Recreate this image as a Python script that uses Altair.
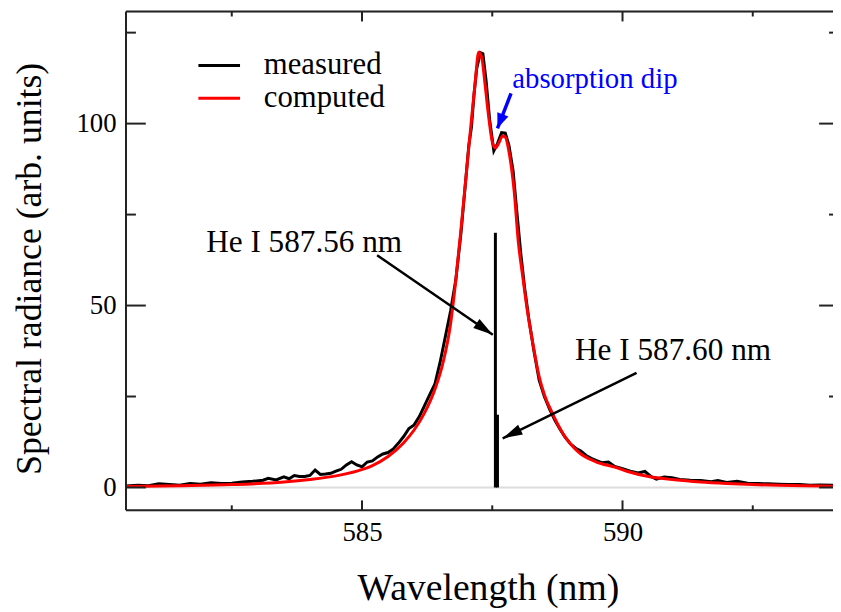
import math
import altair as alt
import pandas as pd

# ---------------- data ----------------
measured_x = [580.47, 580.7, 580.9, 581.1, 581.3, 581.5, 581.7, 581.9, 582.1, 582.3,
              582.5, 582.7, 582.9, 583.1, 583.2, 583.35, 583.5, 583.6, 583.7, 583.8,
              583.9, 584.0, 584.1, 584.2, 584.3, 584.4, 584.5, 584.6, 584.7, 584.8,
              584.9, 585.0, 585.1, 585.2, 585.3, 585.4, 585.5, 585.6, 585.7, 585.8,
              585.9, 586.0, 586.1, 586.2, 586.3, 586.4, 586.5, 586.6, 586.7, 586.8,
              586.9, 587.0, 587.05, 587.1, 587.15, 587.2, 587.27, 587.32, 587.38, 587.45,
              587.53, 587.6, 587.68, 587.75, 587.82, 587.9, 587.97, 588.05, 588.12, 588.2,
              588.3, 588.4, 588.5, 588.6, 588.7, 588.8, 588.9, 589.0, 589.1, 589.2,
              589.3, 589.4, 589.5, 589.6, 589.73, 589.85, 590.0, 590.15, 590.3, 590.43,
              590.55, 590.65, 590.8, 590.95, 591.1, 591.3, 591.5, 591.7, 591.83, 592.0,
              592.2, 592.4, 592.6, 592.8, 593.0, 593.2, 593.4, 593.6, 593.8, 594.04]
measured_y = [0.4, 0.6, 0.5, 1.0, 0.8, 0.6, 1.1, 0.9, 1.3, 1.1,
              1.2, 1.5, 1.7, 2.0, 2.5, 2.1, 2.9, 2.4, 3.3, 3.0,
              3.0, 3.3, 4.8, 3.6, 3.7, 3.9, 4.5, 5.0, 6.2, 7.1,
              6.2, 5.7, 7.0, 7.3, 8.4, 9.2, 9.6, 10.6, 12.2, 14.0,
              16.2, 17.2, 19.5, 22.5, 25.5, 28.5, 34.5, 41.5, 48.5, 57.0,
              70.0, 86.0, 94.0, 99.0, 108.0, 115.0, 119.5, 119.2, 112.0, 101.0,
              92.5, 94.5, 97.5, 97.4, 94.0, 87.0, 76.0, 64.0, 55.0, 46.5,
              37.5, 29.5, 25.0, 21.5, 18.5, 16.0, 13.8, 12.0, 10.8, 10.0,
              8.8, 8.0, 7.4, 6.8, 7.0, 5.8, 5.2, 4.5, 4.0, 4.4,
              3.0, 2.3, 2.9, 2.7, 2.2, 2.0, 1.9, 1.6, 1.9, 1.4,
              1.7, 1.2, 1.1, 1.0, 0.9, 0.8, 0.8, 0.6, 0.7, 0.6]

computed_x = [580.47, 581.5, 582.5, 583.5, 584.0, 584.5, 584.9, 585.2, 585.5, 585.8,
              586.0, 586.2, 586.4, 586.55, 586.7, 586.8, 586.9, 587.0, 587.1, 587.17,
              587.24, 587.3, 587.36, 587.43, 587.5, 587.56, 587.62, 587.7, 587.75, 587.83,
              587.92, 588.0, 588.08, 588.18, 588.28, 588.4, 588.5, 588.65, 588.85, 589.15,
              589.5, 589.85, 590.1, 590.5, 591.0, 591.5, 592.0, 592.5, 593.0, 593.5, 594.04]
computed_y = [0.3, 0.5, 0.8, 1.5, 2.2, 3.2, 4.5, 6.0, 8.5, 12.3,
              15.8, 20.5, 27.0, 34.0, 45.0, 57.0, 71.0, 86.0, 101.0, 111.0,
              119.6, 118.0, 111.0, 102.0, 95.0, 93.3, 94.5, 96.6, 96.3, 91.5,
              81.5, 67.5, 58.5, 48.0, 39.5, 30.5, 25.5, 20.5, 15.0, 9.8,
              7.0, 5.6, 4.4, 3.0, 2.1, 1.5, 1.1, 0.8, 0.6, 0.45, 0.35]

line_wl = [587.56, 587.60]
line_height = [70, 20]

label_text = ["He I 587.56 nm", "He I 587.60 nm"]
label_x = [583.89, 590.97]
label_y = [67.3, 37.4]

arrow_x = [585.29, 590.27]
arrow_y = [63.8, 31.5]
arrow_x2 = [587.51, 587.70]
arrow_y2 = [42.0, 13.5]

dip_text = "absorption dip"
dip_text_x = 589.47
dip_text_y = 112.3
dip_x, dip_y, dip_x2, dip_y2 = 587.86, 108.3, 587.60, 98.7

x_major = [585, 590]
x_minor = [582.5, 587.5, 592.5]
y_major = [0, 50, 100]
y_minor = [25, 75, 125]

XMIN, XMAX = 580.47, 594.04
YMIN, YMAX = -6.27, 130.8
W, H = 713, 503
FONT = "Liberation Serif"

# ---------------- tables ----------------
df_meas = pd.DataFrame({"x": measured_x, "y": measured_y, "series": "measured"})
df_comp = pd.DataFrame({"x": computed_x, "y": computed_y, "series": "computed"})
df_lines = pd.DataFrame({"x": line_wl, "top": line_height, "base": [0, 0]})
df_labels = pd.DataFrame({"x": label_x, "y": label_y, "t": label_text})

px_per_x = W / (XMAX - XMIN)
px_per_y = H / (YMAX - YMIN)


def head_angle(x1, y1, x2, y2):
    dx = (x2 - x1) * px_per_x
    dy = -(y2 - y1) * px_per_y
    a = math.degrees(math.atan2(dy, dx))
    return a % 360


df_arrows = pd.DataFrame({"x": arrow_x, "y": arrow_y, "x2": arrow_x2, "y2": arrow_y2})
df_arrows["angle"] = [head_angle(a, b, c, d) for a, b, c, d in zip(arrow_x, arrow_y, arrow_x2, arrow_y2)]
df_dip = pd.DataFrame({"x": [dip_x], "y": [dip_y], "x2": [dip_x2], "y2": [dip_y2],
                       "angle": [head_angle(dip_x, dip_y, dip_x2, dip_y2)]})
df_diptext = pd.DataFrame({"x": [dip_text_x], "y": [dip_text_y], "t": [dip_text]})

xs = alt.Scale(domain=[XMIN, XMAX], nice=False, zero=False)
ys = alt.Scale(domain=[YMIN, YMAX], nice=False, zero=False)

xaxis = alt.Axis(values=x_major, ticks=False, tickSize=0, domain=False, grid=False,
                 labelFont=FONT, labelFontSize=27, labelColor="black", labelPadding=9,
                 title="Wavelength (nm)", titleFont=FONT, titleFontSize=38,
                 titleFontWeight="normal", titleColor="black",
                 titleX=365, titleY=90, titleBaseline="alphabetic", titleAnchor="start",
                 titleAlign="center")
yaxis = alt.Axis(values=y_major, ticks=False, tickSize=0, domain=False, grid=False,
                 labelFont=FONT, labelFontSize=27, labelColor="black", labelPadding=10,
                 title="Spectral radiance (arb. units)", titleFont=FONT, titleFontSize=36,
                 titleFontWeight="normal", titleColor="black",
                 titleX=-97, titleY=259, titleBaseline="middle", titleAlign="center",
                 titleAngle=270)

X = alt.X("x:Q", scale=xs, axis=xaxis)
Y = alt.Y("y:Q", scale=ys, axis=yaxis)

color = alt.Color("series:N",
                  scale=alt.Scale(domain=["measured", "computed"], range=["black", "red"]),
                  legend=alt.Legend(title=None, orient="none", legendX=78.5, legendY=39,
                                    symbolType="M-2,0L2,0", symbolSize=441, symbolStrokeWidth=3,
                                    labelFont=FONT, labelFontSize=31, labelColor="black",
                                    labelOffset=29.5, rowPadding=1, padding=0))

zero = alt.Chart(pd.DataFrame({"y": [0]})).mark_rule(color="#dcdcdc", strokeWidth=2).encode(
    y=alt.Y("y:Q", scale=ys, axis=yaxis))

meas = alt.Chart(df_meas).mark_line(strokeWidth=3, clip=True).encode(x=X, y=Y, color=color)
comp = alt.Chart(df_comp).mark_line(strokeWidth=3, interpolate="monotone", clip=True).encode(
    x=X, y=Y, color=color)

he = alt.Chart(df_lines).mark_rule(color="black", strokeWidth=3).encode(
    x=alt.X("x:Q", scale=xs), y=alt.Y("base:Q", scale=ys), y2="top:Q")

shafts = alt.Chart(df_arrows).mark_rule(color="black", strokeWidth=2.5).encode(
    x=alt.X("x:Q", scale=xs), y=alt.Y("y:Q", scale=ys), x2="x2:Q", y2="y2:Q")
heads = alt.Chart(df_arrows).mark_point(
    shape="M0,0 L-2,-0.55 L-2,0.55 Z", filled=True, color="black", opacity=1, size=400).encode(
    x=alt.X("x2:Q", scale=xs), y=alt.Y("y2:Q", scale=ys), angle=alt.Angle("angle:Q", scale=None))

dip_shaft = alt.Chart(df_dip).mark_rule(color="#0000ff", strokeWidth=3.5).encode(
    x=alt.X("x:Q", scale=xs), y=alt.Y("y:Q", scale=ys), x2="x2:Q", y2="y2:Q")
dip_head = alt.Chart(df_dip).mark_point(
    shape="M0,0 L-2,-0.8 L-2,0.8 Z", filled=True, color="#0000ff", opacity=1, size=225).encode(
    x=alt.X("x2:Q", scale=xs), y=alt.Y("y2:Q", scale=ys), angle=alt.Angle("angle:Q", scale=None))

labels = alt.Chart(df_labels).mark_text(font=FONT, fontSize=31.5, color="black",
                                        align="center", baseline="middle").encode(
    x=alt.X("x:Q", scale=xs), y=alt.Y("y:Q", scale=ys), text="t:N")
diplabel = alt.Chart(df_diptext).mark_text(font=FONT, fontSize=29, color="#0000ff",
                                           align="center", baseline="middle").encode(
    x=alt.X("x:Q", scale=xs), y=alt.Y("y:Q", scale=ys), text="t:N")

# inward ticks
tick_col = "#222222"
xmaj = pd.DataFrame({"v": x_major})
xmin_ = pd.DataFrame({"v": x_minor})
ymaj = pd.DataFrame({"v": y_major})
ymin_ = pd.DataFrame({"v": y_minor})


def xticks(df, length):
    b = alt.Chart(df).mark_rule(color=tick_col, strokeWidth=2).encode(
        x=alt.X("v:Q", scale=xs), y=alt.value(H), y2=alt.value(H - length))
    t = alt.Chart(df).mark_rule(color=tick_col, strokeWidth=2).encode(
        x=alt.X("v:Q", scale=xs), y=alt.value(0), y2=alt.value(length))
    return b + t


def yticks(df, length, rlength):
    l = alt.Chart(df).mark_rule(color=tick_col, strokeWidth=2).encode(
        y=alt.Y("v:Q", scale=ys), x=alt.value(0), x2=alt.value(length))
    r = alt.Chart(df).mark_rule(color=tick_col, strokeWidth=2).encode(
        y=alt.Y("v:Q", scale=ys), x=alt.value(W - rlength), x2=alt.value(W))
    return l + r


one = pd.DataFrame({"a": [0]})
frame_left = alt.Chart(one).mark_rule(color=tick_col, strokeWidth=2).encode(
    x=alt.value(0), y=alt.value(0), y2=alt.value(H))
frame_top = alt.Chart(one).mark_rule(color=tick_col, strokeWidth=2).encode(
    x=alt.value(0), x2=alt.value(W), y=alt.value(0))
frame_bottom = alt.Chart(one).mark_rule(color=tick_col, strokeWidth=2).encode(
    x=alt.value(0), x2=alt.value(W), y=alt.value(H))

chart = alt.layer(
    zero, meas, comp, he, shafts, heads, dip_shaft, dip_head, labels, diplabel,
    xticks(xmaj, 10), xticks(xmin_, 5), yticks(ymaj, 20, 14), yticks(ymin_, 10, 4),
    frame_left, frame_top, frame_bottom,
).properties(
    width=W, height=H,
    autosize=alt.AutoSizeParams(type="none"),
    padding={"left": 119, "top": 1, "right": 0, "bottom": 100},
).configure_view(stroke=None).configure(background="white")

chart.save("out.html", embed_options={"renderer": "svg", "actions": False})
